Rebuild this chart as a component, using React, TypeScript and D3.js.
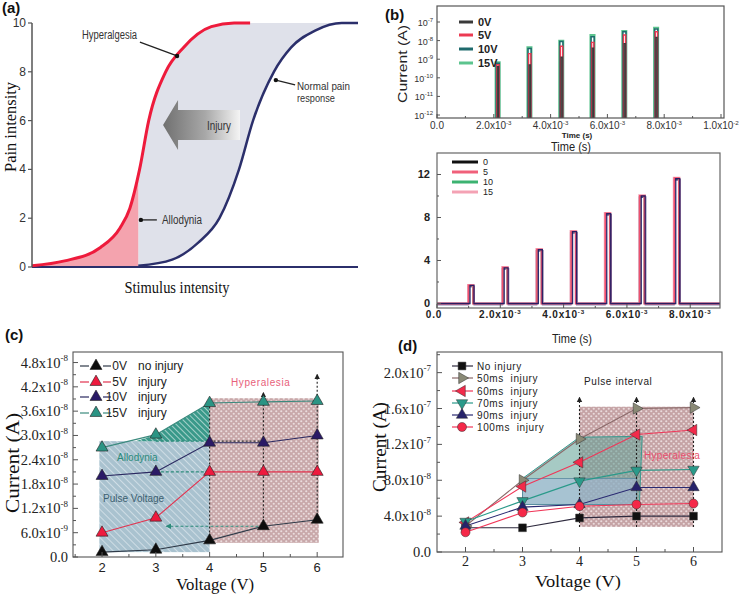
import React from 'react';
import * as d3 from 'd3';

const SANS = "'Liberation Sans', Arial, Helvetica, sans-serif";
const SERIF = "'Liberation Serif', 'Times New Roman', serif";
const NARROW = "'Liberation Sans Narrow', 'Liberation Sans', Arial, sans-serif";

// ---------------- (a) conceptual pain curves ----------------
const painTicks = [0, 2, 4, 6, 8, 10];
const hyperX = [0, 10, 21, 27, 30, 33, 35.8, 41, 46.5, 55, 62, 66.9];
const hyperY = [0.05, 0.25, 0.8, 1.6, 2.4, 4, 6, 8, 9, 9.85, 10, 10];
const normalX = [32.6, 43, 51, 57.5, 63.5, 67.8, 74.2, 79.5, 87, 95, 100];
const normalY = [0.05, 0.3, 1, 2, 4, 6, 8, 9, 9.7, 10, 10];
const allodyniaX = 32.6;

// ---------------- (b) upper: log current ----------------
const bTopSeries = ['0V', '5V', '10V', '15V'];
const bTopPulseT = [2.1e-3, 3.22e-3, 4.34e-3, 5.44e-3, 6.56e-3, 7.68e-3];
const bTop0V = [4e-10, 5e-10, 1.3e-9, 4e-9, 7e-9, 1.5e-8];
const bTop5V = [5e-10, 2e-9, 5e-9, 8e-9, 2e-8, 3e-8];
const bTop10V = [6e-10, 3.8e-9, 9e-9, 1.6e-8, 3e-8, 4.2e-8];
const bTop15V = [7e-10, 4.5e-9, 1e-8, 2e-8, 3.3e-8, 5e-8];
const bTopXTicks = [0, 2e-3, 4e-3, 6e-3, 8e-3, 1e-2];
const bTopYTicks = [1e-12, 1e-11, 1e-10, 1e-9, 1e-8, 1e-7];

// ---------------- (b) lower: linear ----------------
const bBotSeries = ['0', '5', '10', '15'];
const bBotPulseT = [1.07e-3, 2.15e-3, 3.23e-3, 4.31e-3, 5.39e-3, 6.48e-3, 7.57e-3];
const bBot0 = [1.68, 3.32, 5.0, 6.68, 8.35, 10.0, 11.62];
const bBot5 = [1.7, 3.35, 5.02, 6.7, 8.38, 10.02, 11.66];
const bBot10 = [1.66, 3.3, 4.98, 6.66, 8.33, 9.98, 11.6];
const bBot15 = [1.7, 3.36, 5.03, 6.72, 8.4, 10.04, 11.68];
const bBotXTicks = [0, 2e-3, 4e-3, 6e-3, 8e-3];
const bBotYTicks = [0, 4, 8, 12];

// ---------------- (c) pulse voltage ----------------
const voltages = [2, 3, 4, 5, 6];
const cLabels = ['0V', '5V', '10V', '15V'];
const cNotes = ['no injury', 'injury', 'injury', 'injury'];
const c0V = [1.2e-9, 1.8e-9, 4.1e-9, 7.6e-9, 9.2e-9];
const c5V = [6.0e-9, 9.7e-9, 2.1e-8, 2.1e-8, 2.1e-8];
const c10V = [2.0e-8, 2.1e-8, 2.82e-8, 2.82e-8, 3.0e-8];
const c15V = [2.7e-8, 3.02e-8, 3.8e-8, 3.83e-8, 3.85e-8];
const cYTicks = [0, 6e-9, 1.2e-8, 1.8e-8, 2.4e-8, 3.0e-8, 3.6e-8, 4.2e-8, 4.8e-8];
const cXTicks = [2, 3, 4, 5, 6];

// ---------------- (d) pulse interval ----------------
const dLabels = ['No injury', '50ms  injury', '60ms  injury', '70ms  injury', '90ms  injury', '100ms  injury'];
const dNo = [2.7e-8, 2.7e-8, 3.8e-8, 4.0e-8, 4.0e-8];
const d50 = [2.9e-8, 8.0e-8, 1.26e-7, 1.6e-7, 1.61e-7];
const d60 = [3.3e-8, 7.3e-8, 1.0e-7, 1.31e-7, 1.36e-7];
const d70 = [3.4e-8, 5.7e-8, 7.9e-8, 9.1e-8, 9.2e-8];
const d90 = [2.9e-8, 5.0e-8, 5.3e-8, 7.2e-8, 7.2e-8];
const d100 = [2.2e-8, 4.4e-8, 5.1e-8, 5.3e-8, 5.4e-8];
const dYTicks = [0, 4e-8, 8e-8, 1.2e-7, 1.6e-7, 2.0e-7];
const dXTicks = [2, 3, 4, 5, 6];

function sciParts(v: number) {
  if (v === 0) return { m: '0.0', e: null as null | number };
  const e = Math.floor(Math.log10(v) + 1e-9);
  const m = (v / Math.pow(10, e)).toFixed(1);
  return { m, e };
}

function Sci({ x, y, v, anchor = 'end', size = 14, family = SERIF, weight = 'normal', fill = '#222', spacing = 0 }: any) {
  const p = sciParts(v);
  return (
    <text x={x} y={y} textAnchor={anchor} fontSize={size} fontFamily={family} fontWeight={weight} fill={fill} letterSpacing={spacing}>
      {p.e === null ? p.m : (<>{p.m}x10<tspan fontSize={size * 0.62} dy={-size * 0.45}>{p.e}</tspan></>)}
    </text>
  );
}

function Defs() {
  return (
    <defs>
      <linearGradient id="injGrad" x1="0" x2="1" y1="0" y2="0">
        <stop offset="0" stopColor="#707070" />
        <stop offset="0.55" stopColor="#a8a8a8" />
        <stop offset="1" stopColor="#f4f4f4" />
      </linearGradient>
      <pattern id="hatchBlue" width="5" height="5" patternUnits="userSpaceOnUse" patternTransform="rotate(-45)">
        <rect width="5" height="5" fill="#a9c2cf" />
        <line x1="0" y1="0" x2="0" y2="5" stroke="#d4e1e8" strokeWidth="1.8" />
      </pattern>
      <pattern id="hatchGreen" width="4" height="4" patternUnits="userSpaceOnUse" patternTransform="rotate(-45)">
        <rect width="4" height="4" fill="#3a998a" />
        <line x1="0" y1="0" x2="0" y2="4" stroke="#bfe0d9" strokeWidth="1.6" />
      </pattern>
      <pattern id="dots" width="5" height="5" patternUnits="userSpaceOnUse">
        <rect width="5" height="5" fill="#c29ea0" />
        <circle cx="1.25" cy="1.25" r="1.1" fill="#e8d8d9" />
        <circle cx="3.75" cy="3.75" r="1.1" fill="#e8d8d9" />
      </pattern>
      <marker id="arrowK" viewBox="0 0 10 10" refX="8" refY="5" markerWidth="5" markerHeight="6" orient="auto">
        <path d="M0,0 L10,5 L0,10 z" fill="#222" />
      </marker>
      <marker id="arrowG" viewBox="0 0 10 10" refX="8" refY="5" markerWidth="5" markerHeight="5" orient="auto">
        <path d="M0,0 L10,5 L0,10 z" fill="#2b8a7a" />
      </marker>
    </defs>
  );
}

function PanelA() {
  const x = d3.scaleLinear().domain([0, 100]).range([32, 358]);
  const y = d3.scaleLinear().domain([0, 10]).range([267, 23]);
  const hyper = hyperX.map((v, i) => [v, hyperY[i]] as [number, number]);
  const normal = normalX.map((v, i) => [v, normalY[i]] as [number, number]);
  const line = d3.line<[number, number]>().x(d => x(d[0])).y(d => y(d[1])).curve(d3.curveMonotoneX);
  const area = d3.area<[number, number]>().x(d => x(d[0])).y0(y(0)).y1(d => y(d[1])).curve(d3.curveMonotoneX);
  const grayPath = line(normal) + `L${x(allodyniaX)},${y(10)}Z`;
  const whitePath = line(hyper) + `L${x(0)},${y(10)}Z`;
  const arrow: [number, number][] = [[40.2, 5.82], [44.8, 6.84], [44.8, 6.43], [63.8, 6.43], [63.8, 5.2], [44.8, 5.2], [44.8, 4.8]];
  const poly = d3.line<[number, number]>().x(d => x(d[0])).y(d => y(d[1]));
  return (
    <g>
      <path d={grayPath} fill="#dfe1ea" />
      <path d={whitePath} fill="#fff" />
      <clipPath id="alloClip"><rect x={x(0)} y={y(10)} width={x(allodyniaX) - x(0)} height={y(0) - y(10)} /></clipPath>
      <path d={area(hyper) || ''} fill="#f4a3ae" clipPath="url(#alloClip)" />
      <path d={poly(arrow) + 'Z'} fill="url(#injGrad)" />
      <line x1={x(0)} x2={x(100)} y1={y(0)} y2={y(0)} stroke="#2b2f6b" strokeWidth={2} />
      <path d={line(normal) || ''} fill="none" stroke="#2b2f6b" strokeWidth={2.5} />
      <path d={line(hyper) || ''} fill="none" stroke="#ee1b3c" strokeWidth={3} />
      <line x1={32} x2={32} y1={y(0)} y2={y(10)} stroke="#555" strokeWidth={1.5} />
      {painTicks.map(t => (
        <g key={t}>
          <line x1={28} x2={32} y1={y(t)} y2={y(t)} stroke="#555" strokeWidth={1.2} />
          <text x={26} y={y(t) + 4} textAnchor="end" fontSize={12} fontFamily={SANS} fill="#333">{t}</text>
        </g>
      ))}
      <text transform={`translate(16,127) rotate(-90)`} textAnchor="middle" fontSize={17} fontFamily={SERIF} fill="#111" textLength={90} lengthAdjust="spacingAndGlyphs">Pain intensity</text>
      <text x={177} y={293} textAnchor="middle" fontSize={16} fontFamily={SERIF} fill="#111" textLength={105} lengthAdjust="spacingAndGlyphs">Stimulus  intensity</text>
      <line x1={x(33.1)} y1={y(9.22)} x2={x(44.5)} y2={y(8.65)} stroke="#222" strokeWidth={1.3} />
      <circle cx={x(44.5)} cy={y(8.65)} r={2.2} fill="#111" />
      <text x={82} y={39} fontSize={12} fontFamily={NARROW} fill="#333" textLength={55} lengthAdjust="spacingAndGlyphs">Hyperalgesia</text>
      <line x1={x(80.7)} y1={y(7.46)} x2={x(74.8)} y2={y(7.66)} stroke="#222" strokeWidth={1.3} />
      <circle cx={x(74.8)} cy={y(7.66)} r={2.2} fill="#111" />
      <text x={297} y={90} fontSize={11} fontFamily={NARROW} fill="#333" textLength={53} lengthAdjust="spacingAndGlyphs">Normal pain</text>
      <text x={297} y={102} fontSize={11} fontFamily={NARROW} fill="#333" textLength={38} lengthAdjust="spacingAndGlyphs">response</text>
      <line x1={x(38.3)} y1={y(1.93)} x2={x(33.4)} y2={y(1.93)} stroke="#222" strokeWidth={1.3} />
      <circle cx={x(33.4)} cy={y(1.93)} r={2.2} fill="#111" />
      <text x={162} y={224} fontSize={12} fontFamily={NARROW} fill="#333" textLength={40} lengthAdjust="spacingAndGlyphs">Allodynia</text>
      <text x={207} y={130} fontSize={13} fontFamily={NARROW} fill="#333" textLength={24} lengthAdjust="spacingAndGlyphs">Injury</text>
      <text x={2} y={13} fontSize={15} fontWeight="bold" fontFamily={SANS} fill="#111">(a)</text>
    </g>
  );
}

function PanelBTop() {
  const x = d3.scaleLinear().domain([0, 0.01]).range([437, 721]);
  const y = d3.scaleLog().domain([Math.pow(10, -12.16), Math.pow(10, -6.14)]).range([118, 6]);
  const base = y.domain()[0];
  const series = [bTop0V, bTop5V, bTop10V, bTop15V];
  const colors = ['#3a3a3a', '#ec3a52', '#1f6a6c', '#5cc48e'];
  const widths = [0.45e-4, 0.8e-4, 1.1e-4, 1.5e-4];
  const offsets = [0.25e-4, 0.05e-4, -0.15e-4, -0.4e-4];
  const strokeW = [1.2, 1.4, 1.5, 1.8];
  const line = d3.line<[number, number]>().x(d => x(d[0])).y(d => y(d[1]));
  const legendY = [22, 35, 49, 63];
  const minor = d3.range(0, 0.0101, 0.001);
  return (
    <g>
      {[3, 2, 1, 0].map(s => (
        <g key={s}>
          {bTopPulseT.map((t, i) => {
            const t0 = t + offsets[s], t1 = t0 + widths[s], p = series[s][i];
            return <path key={i} d={line([[t0, base], [t0, p], [t1, p], [t1, base]]) || ''} fill="none" stroke={colors[s]} strokeWidth={strokeW[s]} />;
          })}
        </g>
      ))}
      <rect x={437} y={6} width={287} height={112} fill="none" stroke="#555" strokeWidth={1.2} />
      {minor.map((t, i) => (
        <line key={i} x1={x(t)} x2={x(t)} y1={118} y2={i % 2 === 0 ? 114 : 116} stroke="#555" />
      ))}
      {bTopXTicks.map((t, i) => (
        i === 0
          ? <text key={i} x={x(t)} y={129} textAnchor="middle" fontSize={10} fontFamily={SANS} fill="#333">0.0</text>
          : <Sci key={i} x={x(t)} y={129} v={t} anchor="middle" size={10} family={SANS} fill="#333" />
      ))}
      {bTopYTicks.map((t, i) => (
        <g key={i}>
          <line x1={437} x2={440} y1={y(t)} y2={y(t)} stroke="#555" />
          <text x={433} y={y(t) + 4} textAnchor="end" fontSize={9} fontFamily={SANS} fill="#333">10<tspan fontSize={6} dy={-4}>{Math.round(Math.log10(t))}</tspan></text>
        </g>
      ))}
      {bTopSeries.map((s, i) => (
        <g key={s}>
          <line x1={459} x2={473} y1={legendY[i]} y2={legendY[i]} stroke={colors[i]} strokeWidth={3} />
          <text x={478} y={legendY[i] + 4} fontSize={11} fontWeight="bold" fontFamily={SANS} fill="#222">{s}</text>
        </g>
      ))}
      <text transform="translate(407,64) rotate(-90)" textAnchor="middle" fontSize={13} fontFamily={SANS} fill="#222" textLength={78} lengthAdjust="spacingAndGlyphs">Current (A)</text>
      <text x={577} y={138} textAnchor="middle" fontSize={8} fontWeight="bold" fontFamily={SANS} fill="#222">Time (s)</text>
      <text x={571} y={151} textAnchor="middle" fontSize={12} fontFamily={SANS} fill="#222" textLength={40} lengthAdjust="spacingAndGlyphs">Time (s)</text>
      <text x={385} y={20} fontSize={15} fontWeight="bold" fontFamily={SANS} fill="#111">(b)</text>
    </g>
  );
}

function PanelBBottom() {
  const x = d3.scaleLinear().domain([0, 8.94e-3]).range([437, 720]);
  const y = d3.scaleLinear().domain([-0.42, 14]).range([308, 153]);
  const series = [bBot0, bBot5, bBot10, bBot15];
  const colors = ['#161660', '#f0506e', '#3cb371', '#f4a2b4'];
  const legendColors = ['#111', '#f0607a', '#3cb371', '#f4a2b4'];
  const widths = [1.25e-4, 1.45e-4, 1.3e-4, 1.6e-4];
  const shifts = [0.35e-4, 0, 0, 0];
  const strokeW = [1.8, 1.6, 1.0, 2.6];
  const line = d3.line<[number, number]>().x(d => x(d[0])).y(d => y(d[1]));
  const buildPts = (vals: number[], w: number, sh: number) => {
    const pts: [number, number][] = [[0, 0]];
    bBotPulseT.forEach((t, i) => {
      const c = t + sh;
      pts.push([c - w / 2, 0], [c - w / 2, vals[i]], [c + w / 2, vals[i]], [c + w / 2, 0]);
    });
    pts.push([8.94e-3, 0]);
    return pts;
  };
  const legendY = [162, 172, 182, 192];
  const minor = d3.range(0, 8.9e-3, 1e-3);
  return (
    <g>
      <g transform="translate(0,1)">
        <path d={line(buildPts(series[0], 1.9e-4, 0.1e-4)) || ''} fill="none" stroke={colors[0]} strokeWidth={1.6} />
      </g>
      {[3, 2, 1].map(s => (
        <path key={s} d={line(buildPts(series[s], widths[s], shifts[s])) || ''} fill="none" stroke={colors[s]} strokeWidth={strokeW[s]} />
      ))}
      <path d={line(buildPts(series[0], widths[0], shifts[0])) || ''} fill="none" stroke={colors[0]} strokeWidth={1.3} strokeOpacity={0.9} />
      <rect x={437} y={153} width={283} height={155} fill="none" stroke="#666" strokeWidth={1.2} />
      {minor.map((t, i) => (
        <line key={i} x1={x(t)} x2={x(t)} y1={308} y2={i % 2 === 0 ? 304 : 306} stroke="#555" />
      ))}
      {d3.range(0, 14, 2).map((t, i) => (
        <line key={i} x1={437} x2={i % 2 === 0 ? 441 : 439} y1={y(t)} y2={y(t)} stroke="#555" />
      ))}
      {bBotXTicks.map((t, i) => (
        i === 0
          ? <text key={i} x={x(t) - 3} y={318} textAnchor="middle" fontSize={10} fontWeight="bold" fontFamily={SANS} fill="#222" letterSpacing={0.8}>0.0</text>
          : <Sci key={i} x={x(t)} y={318} v={t} anchor="middle" size={10} family={SANS} weight="bold" fill="#222" spacing={0.8} />
      ))}
      {bBotYTicks.map(t => (
        <text key={t} x={430} y={y(t) + 4} textAnchor="end" fontSize={11} fontWeight="bold" fontFamily={SANS} fill="#222">{t}</text>
      ))}
      {bBotSeries.map((s, i) => (
        <g key={s}>
          <line x1={452} x2={478} y1={legendY[i]} y2={legendY[i]} stroke={legendColors[i]} strokeWidth={3} />
          <text x={483} y={legendY[i] + 3} fontSize={9} fontFamily={SANS} fill="#222">{s}</text>
        </g>
      ))}
      <text x={572} y={343} textAnchor="middle" fontSize={12} fontFamily={SANS} fill="#222" textLength={40} lengthAdjust="spacingAndGlyphs">Time (s)</text>
    </g>
  );
}

function PanelC() {
  const x = d3.scaleLinear().domain([1.46, 6.48]).range([73, 343]);
  const y = d3.scaleLinear().domain([0, 5.06e-8]).range([557, 352]);
  const series = [c0V, c5V, c10V, c15V];
  const lineColors = ['#2f3a48', '#e2334f', '#2a2860', '#3b8a7e'];
  const markColors = ['#0d0d0d', '#ee1a3e', '#2a1a66', '#2b9484'];
  const line = d3.line<number>().x((d, i) => x(voltages[i])).y(d => y(d));
  const poly = d3.line<[number, number]>().x(d => x(d[0])).y(d => y(d[1]));
  const tri = d3.symbol().type(d3.symbolTriangle).size(62)() || '';
  const wedge: [number, number][] = [[2.62, 2.86e-8], [3, 3.02e-8], [4, 3.8e-8], [4, 2.86e-8]];
  const legendY = [366, 382, 397, 413];
  return (
    <g>
      <rect x={x(1.95)} y={y(2.86e-8)} width={x(4) - x(1.95)} height={y(1.2e-9) - y(2.86e-8)} fill="url(#hatchBlue)" />
      <path d={poly(wedge) + 'Z'} fill="url(#hatchGreen)" />
      <rect x={x(4)} y={y(3.92e-8)} width={x(6.03) - x(4)} height={y(3.5e-9) - y(3.92e-8)} fill="url(#dots)" opacity={0.9} />
      <line x1={x(4)} x2={x(4)} y1={y(4.1e-9)} y2={y(3.8e-8)} stroke="#222" strokeDasharray="2,2" strokeWidth={1.1} />
      <line x1={x(5)} x2={x(5)} y1={y(7.6e-9)} y2={y(4.05e-8)} stroke="#222" strokeDasharray="2,2" strokeWidth={1.1} markerEnd="url(#arrowK)" />
      <line x1={x(6)} x2={x(6)} y1={y(9.2e-9)} y2={y(4.5e-8)} stroke="#222" strokeDasharray="2,2" strokeWidth={1.1} markerEnd="url(#arrowK)" />
      <line x1={x(3)} x2={x(4)} y1={y(2.86e-8)} y2={y(2.86e-8)} stroke="#2b8a7a" strokeDasharray="3,2" strokeWidth={1.1} />
      <line x1={x(4)} x2={x(5)} y1={y(2.86e-8)} y2={y(2.86e-8)} stroke="#333" strokeDasharray="2,2" strokeWidth={1.1} />
      <line x1={x(3)} x2={x(4)} y1={y(2.1e-8)} y2={y(2.1e-8)} stroke="#2b8a7a" strokeDasharray="3,2" strokeWidth={1.1} />
      <line x1={x(5)} x2={x(3.2)} y1={y(7.6e-9)} y2={y(7.6e-9)} stroke="#2b8a7a" strokeDasharray="3,2" strokeWidth={1.1} markerEnd="url(#arrowG)" />
      {series.map((s, k) => (
        <path key={k} d={line(s) || ''} fill="none" stroke={lineColors[k]} strokeWidth={1.1} />
      ))}
      {series.map((s, k) => s.map((v, i) => (
        <path key={`${k}-${i}`} d={tri} transform={`translate(${x(voltages[i])},${y(v)})`} fill={markColors[k]} stroke="#222" strokeWidth={0.6} />
      )))}
      {cLabels.map((l, k) => (
        <g key={l}>
          <line x1={80} x2={89} y1={legendY[k]} y2={legendY[k]} stroke={lineColors[k]} strokeWidth={1.2} />
          <line x1={103} x2={111} y1={legendY[k]} y2={legendY[k]} stroke={lineColors[k]} strokeWidth={1.2} />
          <path d={tri} transform={`translate(96,${legendY[k]})`} fill={markColors[k]} stroke="#222" strokeWidth={0.6} />
          <text x={127} y={legendY[k] + 4} textAnchor="end" fontSize={12} fontFamily={SANS} fill="#222">{l}</text>
          <text x={138} y={legendY[k] + 4} fontSize={12} fontFamily={SANS} fill="#222">{cNotes[k]}</text>
        </g>
      ))}
      <text x={231} y={386} fontSize={10} fontFamily={SANS} fill="#e8607a" letterSpacing={0.6}>Hyperalesia</text>
      <text x={117} y={461} fontSize={10} fontFamily={SANS} fill="#2b8a7a">Allodynia</text>
      <text x={103} y={502} fontSize={10} fontFamily={SANS} fill="#3c6070">Pulse Voltage</text>
      <rect x={73} y={352} width={270} height={205} fill="none" stroke="#555" strokeWidth={1.1} />
      {d3.range(1.5, 6.5, 0.5).map((t, i) => (
        <line key={i} x1={x(t)} x2={x(t)} y1={557} y2={Number.isInteger(t) ? 552 : 554} stroke="#555" />
      ))}
      {d3.range(0, 5.0e-8, 3e-9).map((t, i) => (
        <line key={i} x1={73} x2={i % 2 === 0 ? 78 : 76} y1={y(t)} y2={y(t)} stroke="#555" />
      ))}
      {cXTicks.map(t => (
        <text key={t} x={x(t)} y={572} textAnchor="middle" fontSize={13} fontFamily={SANS} fill="#222">{t}</text>
      ))}
      {cYTicks.map((t, i) => (
        <Sci key={i} x={68} y={y(t) + 5} v={t} anchor="end" size={14.5} family={SERIF} fill="#222" />
      ))}
      <text transform="translate(19,463) rotate(-90)" textAnchor="middle" fontSize={18} fontFamily={SERIF} fill="#111" textLength={100} lengthAdjust="spacingAndGlyphs">Current (A)</text>
      <text x={215} y={590} textAnchor="middle" fontSize={17} fontFamily={SERIF} fill="#111" textLength={78} lengthAdjust="spacingAndGlyphs">Voltage (V)</text>
      <text x={5} y={340} fontSize={15} fontWeight="bold" fontFamily={SANS} fill="#111">(c)</text>
    </g>
  );
}

function PanelD() {
  const x = d3.scaleLinear().domain([1.5, 6.5]).range([437, 722]);
  const y = d3.scaleLinear().domain([0, 2.23e-7]).range([552, 352]);
  const series = [dNo, d50, d60, d70, d90, d100];
  const lineColors = ['#2e2a3e', '#8a6a6a', '#f03658', '#2a9a8a', '#2a2a72', '#f03658'];
  const markColors = ['#111111', '#8a8a76', '#f22a4a', '#2a9a8a', '#26226a', '#f52848'];
  const syms = [d3.symbolSquare, d3.symbolTriangle, d3.symbolTriangle, d3.symbolTriangle, d3.symbolTriangle, d3.symbolCircle];
  const rots = [0, 90, -90, 180, 0, 0];
  const sizes = [60, 56, 56, 56, 56, 64];
  const line = d3.line<number>().x((d, i) => x(voltages[i])).y(d => y(d));
  const poly = d3.line<[number, number]>().x(d => x(d[0])).y(d => y(d[1]));
  const teal: [number, number][] = [[3, 8.2e-8], [4, 1.28e-7], [5.1, 1.29e-7], [5.05, 5.3e-8], [3, 5.3e-8]];
  const legendY = [366, 378, 391, 403, 415, 427];
  return (
    <g>
      <rect x={x(4)} y={y(1.62e-7)} width={x(6) - x(4)} height={y(2.8e-8) - y(1.62e-7)} fill="url(#dots)" opacity={0.95} />
      <path d={poly(teal) + 'Z'} fill="#5c9e94" fillOpacity={0.55} stroke="#3a9a90" strokeWidth={1} />
      <rect x={x(3)} y={y(8.2e-8)} width={x(5) - x(3)} height={y(5.3e-8) - y(8.2e-8)} fill="#a8bce0" fillOpacity={0.5} stroke="#5a8aa0" strokeWidth={0.8} />
      {[4, 5, 6].map(v => (
        <line key={v} x1={x(v)} x2={x(v)} y1={y(2.8e-8)} y2={y(1.72e-7)} stroke="#222" strokeDasharray="2,2" strokeWidth={1.1} markerEnd="url(#arrowK)" />
      ))}
      {series.map((s, k) => (
        <path key={k} d={line(s) || ''} fill="none" stroke={lineColors[k]} strokeWidth={1.1} />
      ))}
      {series.map((s, k) => s.map((v, i) => (
        <path key={`${k}-${i}`} d={d3.symbol().type(syms[k]).size(sizes[k])() || ''} transform={`translate(${x(voltages[i])},${y(v)}) rotate(${rots[k]})`} fill={markColors[k]} stroke="#333" strokeWidth={0.5} />
      )))}
      {dLabels.map((l, k) => (
        <g key={l}>
          <line x1={452} x2={473} y1={legendY[k]} y2={legendY[k]} stroke={lineColors[k]} strokeWidth={1.2} />
          <path d={d3.symbol().type(syms[k]).size(sizes[k])() || ''} transform={`translate(462,${legendY[k]}) rotate(${rots[k]})`} fill={markColors[k]} stroke="#333" strokeWidth={0.5} />
          <text x={477} y={legendY[k] + 3.5} fontSize={10} fontFamily={SANS} fill="#222" letterSpacing={0.6} style={{ whiteSpace: 'pre' }}>{l}</text>
        </g>
      ))}
      <text x={584} y={385} fontSize={10} fontFamily={SANS} fill="#222" letterSpacing={0.6}>Pulse interval</text>
      <text x={644} y={459} fontSize={10} fontFamily={SANS} fill="#e8506e" letterSpacing={0.3}>Hyperalesia</text>
      <rect x={437} y={352} width={285} height={200} fill="none" stroke="#555" strokeWidth={1.1} />
      {d3.range(2, 6.5, 0.5).map((t, i) => (
        <line key={i} x1={x(t)} x2={x(t)} y1={552} y2={Number.isInteger(t) ? 547 : 549} stroke="#555" />
      ))}
      {d3.range(0, 2.21e-7, 2e-8).map((t, i) => (
        <line key={i} x1={437} x2={i % 2 === 0 ? 442 : 440} y1={y(t)} y2={y(t)} stroke="#555" />
      ))}
      {dXTicks.map(t => (
        <text key={t} x={x(t)} y={566} textAnchor="middle" fontSize={14} fontFamily={SERIF} fill="#222">{t}</text>
      ))}
      {dYTicks.map((t, i) => (
        <Sci key={i} x={431} y={y(t) + 5} v={t} anchor="end" size={14.5} family={SERIF} fill="#222" />
      ))}
      <text transform="translate(386,447) rotate(-90)" textAnchor="middle" fontSize={18} fontFamily={SERIF} fill="#111" textLength={90} lengthAdjust="spacingAndGlyphs">Current (A)</text>
      <text x={578} y={587} textAnchor="middle" fontSize={17} fontFamily={SERIF} fill="#111" textLength={86} lengthAdjust="spacingAndGlyphs">Voltage (V)</text>
      <text x={398} y={351} fontSize={15} fontWeight="bold" fontFamily={SANS} fill="#111">(d)</text>
    </g>
  );
}

export default function App() {
  return (
    <svg width={740} height={595} style={{ position: 'absolute', left: 0, top: 0, background: '#fff' }} fontFamily={SANS}>
      <Defs />
      <rect width={740} height={595} fill="#fff" />
      <PanelA />
      <PanelBTop />
      <PanelBBottom />
      <PanelC />
      <PanelD />
    </svg>
  );
}
